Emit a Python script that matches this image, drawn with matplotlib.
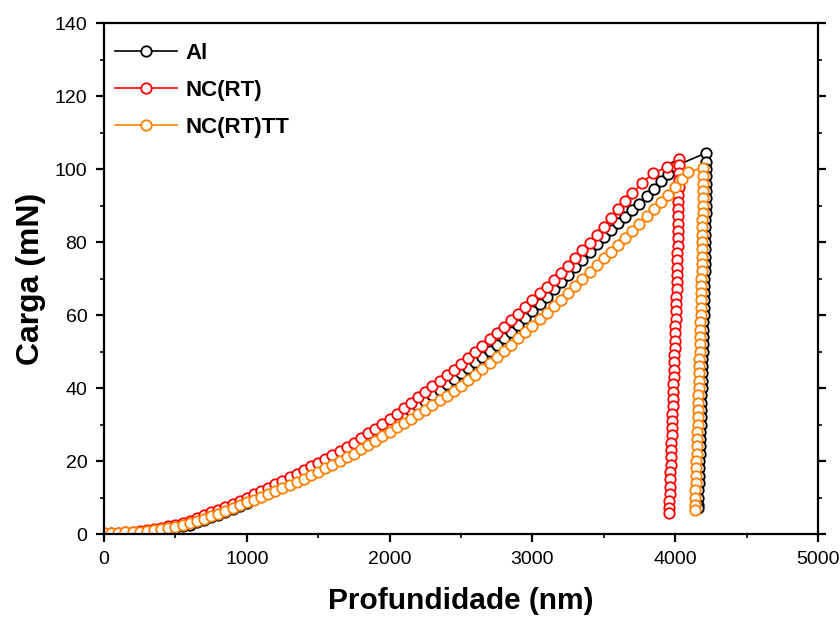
import matplotlib
matplotlib.use('Agg')
import matplotlib.pyplot as plt
from matplotlib.ticker import MultipleLocator

plt.rcParams['font.family'] = ['Liberation Sans', 'DejaVu Sans']

# shared depth grid (nm) for the loading branches
depth_grid = [0, 50, 100, 150, 200, 250, 300, 350, 400, 450,
              500, 550, 600, 650, 700, 750, 800, 850, 900, 950,
              1000, 1050, 1100, 1150, 1200, 1250, 1300, 1350, 1400, 1450,
              1500, 1550, 1600, 1650, 1700, 1750, 1800, 1850, 1900, 1950,
              2000, 2050, 2100, 2150, 2200, 2250, 2300, 2350, 2400, 2450,
              2500, 2550, 2600, 2650, 2700, 2750, 2800, 2850, 2900, 2950,
              3000, 3050, 3100, 3150, 3200, 3250, 3300, 3350, 3400, 3450,
              3500, 3550, 3600, 3650, 3700, 3750, 3800, 3850, 3900, 3950,
              4000]

# Al
al_load_up = [0.0, 0.0, 0.0, 0.0, 0.1, 0.2, 0.4, 0.6, 0.9, 1.2,
              1.6, 2.1, 2.6, 3.2, 3.9, 4.6, 5.3, 6.1, 6.9, 7.7,
              8.6, 9.5, 10.3, 11.2, 12.0, 12.9, 13.9, 14.9, 15.9, 16.9,
              18.0, 19.1, 20.2, 21.3, 22.4, 23.5, 24.7, 25.9, 27.1, 28.3,
              29.5, 30.9, 32.3, 33.7, 35.1, 36.5, 38.0, 39.5, 41.0, 42.5,
              44.0, 45.5, 47.1, 48.6, 50.2, 51.8, 53.6, 55.4, 57.2, 59.1,
              61.0, 63.0, 65.0, 67.0, 69.0, 71.0, 73.1, 75.2, 77.3, 79.4,
              81.5, 83.3, 85.1, 86.9, 88.7, 90.5, 92.6, 94.6, 96.7, 98.7,
              100.8, 104.4]
al_depth_up = depth_grid + [4216]
al_load_down = [102, 100, 98, 96, 94, 92, 90, 88, 86, 84, 82, 80, 78, 76, 74, 72,
                70, 68, 66, 64, 62, 60, 58, 56, 54, 52, 50, 48, 46, 44, 42, 40,
                38, 36, 34, 32, 30, 28, 26, 24, 22, 20, 18, 16, 14, 12, 10, 8, 7]
al_depth_down = [4216, 4216, 4216, 4215, 4215, 4214, 4214, 4213, 4212, 4212, 4211, 4210,
                 4209, 4208, 4207, 4206, 4205, 4204, 4203, 4201, 4200, 4199, 4198, 4196,
                 4195, 4194, 4193, 4191, 4190, 4189, 4187, 4186, 4184, 4183, 4181, 4180,
                 4178, 4177, 4175, 4173, 4172, 4170, 4168, 4167, 4165, 4163, 4161, 4159,
                 4158]

# NC(RT)
rt_load_up = [0.3, 0.3, 0.4, 0.5, 0.6, 0.8, 1.0, 1.3, 1.7, 2.1,
              2.6, 3.1, 3.7, 4.4, 5.1, 5.9, 6.7, 7.5, 8.3, 9.1,
              10.0, 10.9, 11.8, 12.7, 13.6, 14.5, 15.5, 16.5, 17.5, 18.5,
              19.5, 20.6, 21.7, 22.8, 23.9, 25.0, 26.3, 27.6, 28.9, 30.2,
              31.5, 33.0, 34.5, 36.0, 37.5, 39.0, 40.5, 42.0, 43.5, 45.0,
              46.5, 48.2, 49.9, 51.6, 53.3, 55.0, 56.8, 58.6, 60.4, 62.2,
              64.0, 65.9, 67.8, 69.7, 71.6, 73.5, 75.6, 77.7, 79.8, 81.9,
              84.0, 86.5, 89.0, 91.2, 93.3,
              96.2, 98.9, 100.5, 102.8]
rt_depth_up = depth_grid[:75] + [3770, 3845, 3942, 4027]
rt_load_down = [101, 99, 97, 95, 93, 91, 89, 87, 85, 83, 81, 79, 77, 75, 73, 71,
                69, 67, 65, 63, 61, 59, 57, 55, 53, 51, 49, 47, 45, 43, 41, 39,
                37, 35, 33, 31, 29, 27, 25, 23, 21, 19, 17, 15, 13, 11, 9, 7, 5.8]
rt_depth_down = [4026, 4026, 4025, 4024, 4023, 4022, 4021, 4020, 4019, 4018, 4017, 4017,
                 4016, 4015, 4014, 4013, 4011, 4010, 4008, 4006, 4004, 4003, 4001, 3999,
                 3998, 3996, 3994, 3992, 3991, 3989, 3987, 3986, 3984, 3982, 3980, 3979,
                 3977, 3975, 3974, 3972, 3970, 3968, 3967, 3965, 3963, 3962, 3960, 3958,
                 3957]

# NC(RT)TT
tt_load_up = [0.4, 0.4, 0.4, 0.5, 0.5, 0.6, 0.8, 1.0, 1.3, 1.6,
              2.0, 2.5, 3.0, 3.6, 4.2, 4.8, 5.5, 6.3, 7.1, 7.9,
              8.7, 9.4, 10.2, 10.9, 11.7, 12.5, 13.4, 14.3, 15.2, 16.1,
              17.0, 18.0, 19.0, 20.0, 21.0, 22.0, 23.2, 24.4, 25.6, 26.8,
              28.0, 29.2, 30.4, 31.6, 32.8, 34.0, 35.3, 36.6, 37.9, 39.2,
              40.5, 42.1, 43.7, 45.3, 46.9, 48.5, 50.2, 51.9, 53.6, 55.3,
              57.0, 58.8, 60.6, 62.4, 64.2, 66.0, 67.9, 69.8, 71.7, 73.6,
              75.5, 77.4, 79.3, 81.2, 83.1, 85.0, 87.0, 89.0, 91.0, 93.0,
              95.0, 97.2, 99.2, 100.3]
tt_depth_up = depth_grid + [4050, 4090, 4195]
tt_load_down = [98, 96, 94, 92, 90, 88, 86, 84, 82, 80, 78, 76, 74, 72,
                70, 68, 66, 64, 62, 60, 58, 56, 54, 52, 50, 48, 46, 44, 42, 40,
                38, 36, 34, 32, 30, 28, 26, 24, 22, 20, 18, 16, 14, 12, 10, 8, 6.5]
tt_depth_down = [4195, 4194, 4194, 4193, 4193, 4192, 4191, 4191, 4190, 4189, 4188, 4187,
                 4186, 4185, 4184, 4183, 4182, 4180, 4179, 4178, 4177, 4175, 4174, 4173,
                 4172, 4170, 4169, 4168, 4166, 4165, 4163, 4162, 4160, 4159, 4157, 4156,
                 4154, 4152, 4151, 4149, 4147, 4146, 4144, 4142, 4140, 4138, 4137]

labels = ['Al', 'NC(RT)', 'NC(RT)TT']
colors = ['black', '#FF0000', '#FF8000']

series = [
    (al_depth_up + al_depth_down, al_load_up + al_load_down),
    (rt_depth_up + rt_depth_down, rt_load_up + rt_load_down),
    (tt_depth_up + tt_depth_down, tt_load_up + tt_load_down),
]

fig = plt.figure(figsize=(8.4, 6.17), dpi=100)
ax = fig.add_axes([0.1238, 0.1345, 0.85, 0.8282])

for (x, y), lab, c in zip(series, labels, colors):
    ax.plot(x, y, '-', color=c, lw=1.2, marker='o', ms=7.5, mfc='white',
            mec=c, mew=1.3, label=lab)

ax.set_xlim(0, 5000)
ax.set_ylim(0, 140)
ax.xaxis.set_major_locator(MultipleLocator(1000))
ax.xaxis.set_minor_locator(MultipleLocator(500))
ax.yaxis.set_major_locator(MultipleLocator(20))
ax.yaxis.set_minor_locator(MultipleLocator(10))

for s in ax.spines.values():
    s.set_linewidth(1.6)
ax.tick_params(which='major', direction='out', length=6, width=1.6,
               labelsize=14, right=True, pad=6)
ax.tick_params(which='minor', direction='out', length=3, width=1.2, right=True)

ax.set_xlabel('Profundidade (nm)', fontsize=21.5, fontweight='bold', labelpad=14)
ax.set_ylabel('Carga (mN)', fontsize=23, fontweight='bold', labelpad=6)

leg = ax.legend(loc='upper left', bbox_to_anchor=(-0.013, 1.0), frameon=False,
                prop={'size': 16, 'weight': 'bold'}, handlelength=2.8,
                handletextpad=0.4, labelspacing=0.72, borderaxespad=0.5)

fig.savefig('out.png', dpi=100)
